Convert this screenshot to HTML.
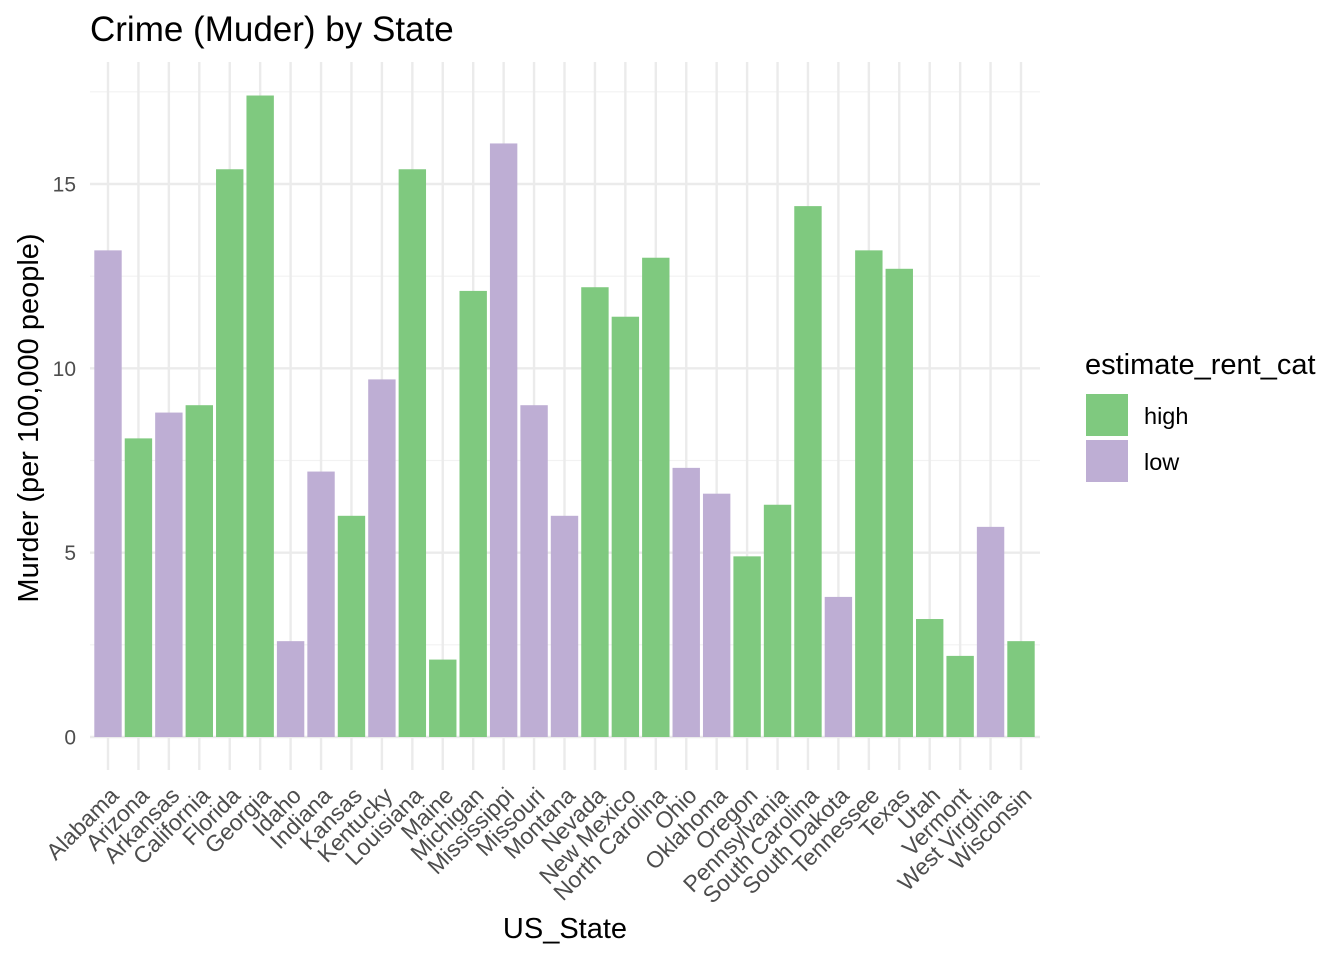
<!DOCTYPE html>
<html><head><meta charset="utf-8"><style>body{margin:0;background:#fff}svg{display:block;font-family:"Liberation Sans",sans-serif}</style></head>
<body>
<svg id="chart" width="1344" height="960">
<text x="90" y="41" font-size="35" fill="#000">Crime (Muder) by State</text>
<g id="grid"></g><g id="bars"></g><g id="xt"></g><g id="yt"></g>
<text transform="translate(38,418) rotate(-90)" text-anchor="middle" font-size="29" fill="#000">Murder (per 100,000 people)</text>
<text x="565" y="938" text-anchor="middle" font-size="29" fill="#000">US_State</text>
<g>
<text x="1085" y="374" font-size="29" fill="#000">estimate_rent_cat</text>
<rect x="1086" y="394" width="42" height="42" fill="#7FC97F"/>
<text x="1144" y="424" font-size="23.5" fill="#000">high</text>
<rect x="1086" y="440" width="42" height="42" fill="#BEAED4"/>
<text x="1144" y="470" font-size="23.5" fill="#000">low</text>
</g>
</svg>
<script>
const states=["Alabama","Arizona","Arkansas","California","Florida","Georgia","Idaho","Indiana","Kansas","Kentucky","Louisiana","Maine","Michigan","Mississippi","Missouri","Montana","Nevada","New Mexico","North Carolina","Ohio","Oklahoma","Oregon","Pennsylvania","South Carolina","South Dakota","Tennessee","Texas","Utah","Vermont","West Virginia","Wisconsin"];
const murder=[13.2,8.1,8.8,9.0,15.4,17.4,2.6,7.2,6.0,9.7,15.4,2.1,12.1,16.1,9.0,6.0,12.2,11.4,13.0,7.3,6.6,4.9,6.3,14.4,3.8,13.2,12.7,3.2,2.2,5.7,2.6];
const rentCat=["low","high","low","high","high","high","low","low","high","low","high","high","high","low","low","low","high","high","high","low","low","high","high","high","low","high","high","high","high","low","high"];
const yTicks=[0,5,10,15];
const colors={high:"#7FC97F",low:"#BEAED4"};
const NS="http://www.w3.org/2000/svg";
const x=i=>108+i*(1021-108)/30;
const y=v=>737-v*(737-184)/15;
const bw=27.4;
function mk(t,a,p){const e=document.createElementNS(NS,t);for(const k in a)e.setAttribute(k,a[k]);p.appendChild(e);return e;}
const grid=document.getElementById('grid');
[2.5,7.5,12.5,17.5].forEach(v=>{const l=mk('line',{x1:90,x2:1040,y1:y(v),y2:y(v),stroke:'#f2f2f2','stroke-width':1.2},grid);

});
yTicks.forEach(v=>{const l=mk('line',{x1:90,x2:1040,y1:y(v),y2:y(v),stroke:'#ebebeb','stroke-width':2.4},grid);


const t=mk('text',{x:76,y:y(v)+7.5,'text-anchor':'end','font-size':21,fill:'#4d4d4d'},document.getElementById('yt'));t.textContent=v;

});
states.forEach((s,i)=>{const l=mk('line',{x1:x(i),x2:x(i),y1:62,y2:770,stroke:'#ebebeb','stroke-width':2.4},grid);


const r=mk('rect',{x:x(i)-bw/2,y:y(murder[i]),width:bw,height:y(0)-y(murder[i]),fill:colors[rentCat[i]]},document.getElementById('bars'));


const t=mk('text',{transform:`translate(${x(i)+12},${797}) rotate(-45)`,'text-anchor':'end','font-size':23,fill:'#4d4d4d'},document.getElementById('xt'));t.textContent=s;

});
</script>
</body></html>
